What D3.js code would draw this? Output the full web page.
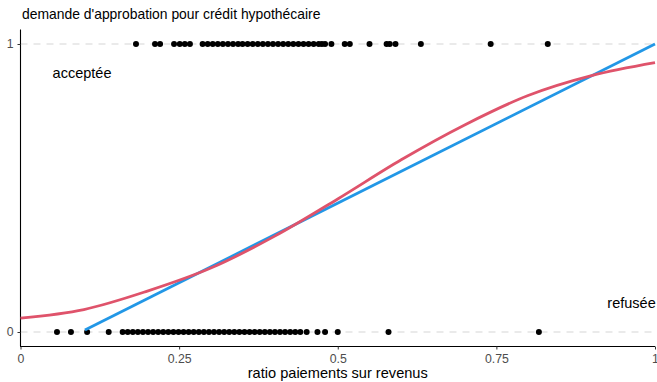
<!DOCTYPE html>
<html>
<head>
<meta charset="utf-8">
<script src="https://cdn.jsdelivr.net/npm/d3@7"></script>
<style>
  body { margin: 0; background: #fff; }
  text { font-family: "Liberation Sans", Arial, sans-serif; }
</style>
</head>
<body>
<div id="chart"></div>
<script>
// points: ratio paiements / revenus, accepted (1) and refused (0)
var accepted = [0.182, 0.212, 0.220, 0.242, 0.251, 0.259, 0.267,
  0.287, 0.295, 0.303, 0.311, 0.319, 0.327, 0.335, 0.343, 0.350, 0.358,
  0.366, 0.374, 0.382, 0.390, 0.398, 0.406, 0.414, 0.422, 0.430, 0.438,
  0.446, 0.454, 0.462, 0.470, 0.475, 0.480, 0.490, 0.511, 0.519, 0.550,
  0.577, 0.582, 0.591, 0.631, 0.741, 0.831];
var refused = [0.0575, 0.0795, 0.105, 0.139,
  0.161, 0.169, 0.177, 0.185, 0.193, 0.201, 0.209, 0.217, 0.225, 0.233,
  0.241, 0.249, 0.257, 0.265, 0.273, 0.281, 0.289, 0.297, 0.305, 0.313,
  0.321, 0.329, 0.337, 0.345, 0.353, 0.361, 0.369, 0.377, 0.385, 0.393,
  0.401, 0.409, 0.417, 0.425, 0.433, 0.441, 0.451, 0.468, 0.480, 0.500,
  0.580, 0.817];

// fitted lines
var linearX = [0.1016, 1.0];
var linearY = [0.007, 1.0];
var logitX = [0, 0.1, 0.2, 0.3, 0.4, 0.5, 0.6, 0.7, 0.8, 0.9, 1.0];
var logitY = [0.048, 0.078, 0.142, 0.222, 0.332, 0.462, 0.598, 0.719, 0.821, 0.890, 0.935];

var xTicks = [0, 0.25, 0.5, 0.75, 1];
var xTickLabels = ["0", "0.25", "0.5", "0.75", "1"];
var yTicks = [0, 1];
var yTickLabels = ["0", "1"];

var width = 657, height = 382;

var x = d3.scaleLinear().domain([0, 1]).range([20.5, 655]);
var y = d3.scaleLinear().domain([0, 1]).range([332, 44]);

var svg = d3.select("#chart")
    .append("svg")
        .attr("width", width)
        .attr("height", height);

// dashed reference lines at 0 and 1
svg.selectAll(".ref")
    .data(yTicks)
    .enter().append("line")
        .attr("x1", x(0)).attr("x2", x(1))
        .attr("y1", function(d) { return y(d); })
        .attr("y2", function(d) { return y(d); })
        .style("stroke", "#e3e3e3")
        .style("stroke-width", 1.6)
        .style("stroke-dasharray", "7,6");

// axes
var xAxis = d3.axisBottom(x).tickValues(xTicks)
    .tickFormat(function(d, i) { return xTickLabels[i]; })
    .tickSize(3).tickPadding(5);
var yAxis = d3.axisLeft(y).tickValues(yTicks)
    .tickFormat(function(d, i) { return yTickLabels[i]; })
    .tickSize(3).tickPadding(4);

var gx = svg.append("g")
    .attr("transform", "translate(0,346.5)")
    .call(xAxis);
gx.select(".domain").attr("d", "M20,0H655");

var gy = svg.append("g")
    .attr("transform", "translate(20.5,0)")
    .call(yAxis);
gy.select(".domain").attr("d", "M0,29.6V346.5");

svg.selectAll(".domain").style("stroke", "#000").style("stroke-width", 1.1);
svg.selectAll(".tick line").style("stroke", "#333");
svg.selectAll(".tick text")
    .style("fill", "#4d4d4d")
    .style("font-size", "12.3px")
    .style("font-family", "Liberation Sans, Arial, sans-serif");

// points
svg.selectAll(".acc")
    .data(accepted)
    .enter().append("circle")
        .attr("cx", function(d) { return x(d); })
        .attr("cy", y(1))
        .attr("r", 3)
        .style("fill", "#000");

svg.selectAll(".ref0")
    .data(refused)
    .enter().append("circle")
        .attr("cx", function(d) { return x(d); })
        .attr("cy", y(0))
        .attr("r", 3)
        .style("fill", "#000");

// linear fit
var linear = d3.line()
    .x(function(d) { return x(d[0]); })
    .y(function(d) { return y(d[1]); });

svg.append("path")
    .attr("d", linear(d3.zip(linearX, linearY)))
    .style("stroke", "#2297E6")
    .style("stroke-width", 2.8)
    .style("fill", "none");

// logit fit
var curve = d3.line()
    .x(function(d) { return x(d[0]); })
    .y(function(d) { return y(d[1]); })
    .curve(d3.curveCatmullRom);

svg.append("path")
    .attr("d", curve(d3.zip(logitX, logitY)))
    .style("stroke", "#DF536B")
    .style("stroke-width", 2.8)
    .style("fill", "none");

// annotations
svg.append("text")
    .attr("x", x(0.097))
    .attr("y", y(0.9))
    .attr("dy", "0.35em")
    .attr("text-anchor", "middle")
    .style("font-size", "14.5px")
    .text("acceptée");

svg.append("text")
    .attr("x", x(0.963))
    .attr("y", y(0.1))
    .attr("dy", "0.35em")
    .attr("text-anchor", "middle")
    .style("font-size", "14.5px")
    .text("refusée");

// title and axis label
svg.append("text")
    .attr("x", 22)
    .attr("y", 19)
    .style("font-size", "13.9px")
    .text("demande d'approbation pour crédit hypothécaire");

svg.append("text")
    .attr("x", (20.5 + 655) / 2)
    .attr("y", 378)
    .attr("text-anchor", "middle")
    .style("font-size", "14.6px")
    .text("ratio paiements sur revenus");
</script>
</body>
</html>
